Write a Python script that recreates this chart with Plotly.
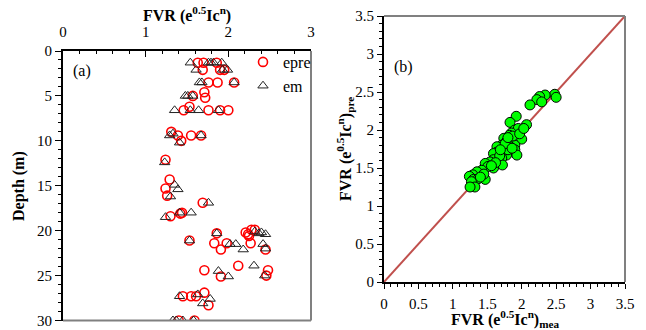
import plotly.graph_objects as go

# Panel (a): predicted (epre) and measured (em) FVR against depth
epre_depth = [1.3, 1.3, 1.3, 2.1, 2.1, 2.1, 3.5, 3.5, 3.5, 5.0, 4.6, 5.2,
              6.6, 6.2, 6.6, 6.6, 6.6, 9.0, 9.4, 10.0, 9.4, 9.4, 12.1,
              14.3, 15.3, 16.1, 16.9, 18.4, 18.1, 18.0,
              20.3, 20.2, 20.4, 19.9, 19.9, 20.6, 21.1,
              21.4, 22.1, 21.4, 21.4, 22.1,
              24.4, 25.1, 23.9, 24.4, 25.0,
              27.3, 27.3, 27.3, 26.9, 28.3, 30.0, 30.0]
epre_val = [1.63, 1.70, 1.86, 1.69, 1.90, 1.95, 1.76, 1.87, 2.07, 1.57, 1.71, 1.72,
            1.46, 1.53, 1.76, 1.90, 2.00, 1.31, 1.39, 1.43, 1.55, 1.67, 1.24,
            1.29, 1.24, 1.26, 1.69, 1.30, 1.42, 1.44,
            1.86, 2.21, 2.24, 2.28, 2.32, 2.25, 1.53,
            1.83, 1.91, 1.98, 2.27, 2.45,
            1.71, 1.91, 2.12, 2.48, 2.46,
            1.45, 1.55, 1.61, 1.71, 1.76, 1.40, 1.59]

em_depth = [1.3, 1.3, 1.3, 1.3, 1.3, 2.1, 2.1, 2.1, 3.5, 3.5, 3.5, 5.0, 5.0, 5.0,
            6.6, 6.6, 6.6, 6.6, 9.4, 9.2, 10.2, 9.4, 12.4,
            14.9, 15.4, 16.2, 16.9, 18.5, 18.0, 18.0,
            20.3, 20.1, 20.3, 20.2, 20.4, 21.1,
            21.5, 21.5, 22.1, 21.5, 22.0,
            24.5, 25.1, 23.9, 25.0,
            27.3, 27.1, 28.1, 27.6, 30.0, 30.0, 30.0, 30.0]
em_val = [1.54, 1.76, 1.79, 1.82, 1.92, 1.61, 1.99, 1.93, 1.65, 1.68, 2.07, 1.48, 1.51, 1.57,
          1.35, 1.54, 1.64, 1.88, 1.29, 1.33, 1.41, 1.67, 1.23,
          1.35, 1.39, 1.30, 1.76, 1.24, 1.41, 1.55,
          1.86, 2.32, 2.37, 2.40, 2.45, 1.53,
          2.02, 2.09, 2.18, 2.42, 2.45,
          1.88, 2.00, 2.31, 2.44,
          1.41, 1.63, 1.69, 1.78, 1.33, 1.37, 1.45, 1.58]

# Panel (b): measured vs predicted FVR
fvr_mea = [2.48, 2.34, 2.26, 2.22, 2.29, 2.12, 2.50,
           1.92, 1.83, 2.07, 1.90, 1.95, 1.85, 1.82, 1.74, 2.00, 1.78, 1.71,
           1.64, 1.90, 1.83, 1.72, 1.64, 1.59, 1.90, 1.93, 1.78, 1.71, 1.66,
           1.59, 1.54, 1.47, 1.72, 1.59, 1.51, 1.42, 1.35, 1.29, 1.24, 1.30,
           1.37, 1.47, 1.27, 1.32, 1.25, 1.87, 1.80, 1.97, 2.03, 1.68, 1.76,
           1.62, 1.45, 1.40, 1.56, 1.86, 1.80, 1.69]
fvr_pre = [2.47, 2.46, 2.44, 2.40, 2.37, 2.33, 2.43,
           2.18, 2.10, 2.07, 2.00, 2.02, 1.96, 1.93, 1.89, 1.88, 1.85, 1.80,
           1.78, 1.80, 1.78, 1.71, 1.71, 1.69, 1.74, 1.67, 1.67, 1.63, 1.61,
           1.61, 1.58, 1.56, 1.54, 1.50, 1.52, 1.47, 1.45, 1.41, 1.39, 1.35,
           1.36, 1.35, 1.32, 1.25, 1.25, 1.92, 1.74, 1.95, 2.02, 1.66, 1.82,
           1.57, 1.42, 1.38, 1.53, 1.76, 1.90, 1.74]

diag = [0, 3.5]

FONT = "Times New Roman, Liberation Serif, serif"
fig = go.Figure()

fig.add_trace(go.Scatter(x=epre_val, y=epre_depth, mode="markers", name="epre",
                         marker=dict(symbol="circle-open", size=9, color="#ff0000",
                                     line=dict(width=1.6, color="#ff0000")),
                         xaxis="x", yaxis="y"))
fig.add_trace(go.Scatter(x=em_val, y=em_depth, mode="markers", name="em",
                         marker=dict(symbol="triangle-up-open", size=9, color="#222222",
                                     line=dict(width=1, color="#222222")),
                         xaxis="x", yaxis="y"))
fig.add_trace(go.Scatter(x=diag, y=diag, mode="lines", showlegend=False,
                         line=dict(color="#c0504d", width=2), xaxis="x2", yaxis="y2"))
fig.add_trace(go.Scatter(x=fvr_mea, y=fvr_pre, mode="markers", showlegend=False,
                         marker=dict(symbol="circle", size=10, color="#00ff00",
                                     line=dict(width=1, color="#000000")),
                         xaxis="x2", yaxis="y2"))

W, H = 646, 330
def px(x): return x / W
def py(y): return 1 - y / H

tickfont = dict(family=FONT, size=15, color="#000000")
minor_common = dict(ticklen=3, tickcolor="#000000", tickwidth=1)

fig.update_layout(
    width=W, height=H, margin=dict(l=0, r=0, t=0, b=0),
    paper_bgcolor="white", plot_bgcolor="white",
    font=dict(family=FONT, size=15, color="#000000"),
    xaxis=dict(domain=[px(63), px(311)], range=[0, 3], side="top", anchor="y",
               dtick=1, ticks="inside", ticklen=6, tickwidth=1, tickcolor="#000",
               minor=dict(dtick=0.2, ticks="inside", **minor_common),
               showline=True, linecolor="#000", linewidth=2, showgrid=False,
               zeroline=False, tickfont=tickfont, automargin=False,
               ticklabelstandoff=6),
    yaxis=dict(domain=[py(320.5), py(51)], range=[30, 0], anchor="x",
               dtick=5, ticks="outside", ticklen=6, tickwidth=1, tickcolor="#000",
               minor=dict(dtick=1, ticks="outside", **minor_common),
               showline=True, linecolor="#000", linewidth=2, showgrid=False,
               zeroline=False, tickfont=tickfont, automargin=False),
    xaxis2=dict(domain=[px(384), px(625)], range=[0, 3.5], anchor="y2",
                dtick=0.5, ticks="outside", ticklen=5, tickwidth=1, tickcolor="#000",
                minor=dict(dtick=0.1, ticks="outside", **minor_common),
                showline=True, linecolor="#000", linewidth=2, showgrid=False,
                zeroline=False, tickfont=tickfont, automargin=False,
                ticklabelstandoff=2),
    yaxis2=dict(domain=[py(282), py(16)], range=[0, 3.5], anchor="x2",
                dtick=0.5, ticks="outside", ticklen=5, tickwidth=1, tickcolor="#000",
                minor=dict(dtick=0.1, ticks="outside", **minor_common),
                showline=True, linecolor="#000", linewidth=2, showgrid=False,
                zeroline=False, tickfont=tickfont, automargin=False),
    legend=dict(x=px(243), y=py(45), xanchor="left", yanchor="top",
                bgcolor="rgba(0,0,0,0)", font=dict(family=FONT, size=16),
                itemwidth=30, tracegroupgap=0),
    showlegend=True,
)

# gray frame lines on right/bottom of (a) and top/right of (b)
frame = dict(type="line", xref="paper", yref="paper", line=dict(color="#808080", width=2))
fig.add_shape(**frame, x0=px(311), x1=px(311), y0=py(320.5), y1=py(51))
fig.add_shape(**frame, x0=px(63), x1=px(311), y0=py(320.5), y1=py(320.5))
fig.add_shape(**frame, x0=px(625), x1=px(625), y0=py(282), y1=py(16))
fig.add_shape(**frame, x0=px(384), x1=px(625), y0=py(16), y1=py(16))

ann = dict(xref="paper", yref="paper", showarrow=False, xanchor="center", yanchor="middle")
fig.add_annotation(**ann, x=px(187), y=py(14), text="<b>FVR (e<sup>0.5</sup>Ic<sup>n</sup>)</b>",
                   font=dict(family=FONT, size=16))
fig.add_annotation(**ann, x=px(19), y=py(186), text="<b>Depth (m)</b>", textangle=-90,
                   font=dict(family=FONT, size=16))
fig.add_annotation(**ann, x=px(505), y=py(319), text="<b>FVR (e<sup>0.5</sup>Ic<sup>n</sup>)<sub>mea</sub></b>",
                   font=dict(family=FONT, size=16))
fig.add_annotation(**ann, x=px(345), y=py(149), text="<b>FVR (e<sup>0.5</sup>Ic<sup>n</sup>)<sub>pre</sub></b>",
                   textangle=-90, font=dict(family=FONT, size=16))
fig.add_annotation(**ann, x=px(82), y=py(71), text="(a)", font=dict(family=FONT, size=16))
fig.add_annotation(**ann, x=px(403), y=py(67), text="(b)", font=dict(family=FONT, size=16))

fig.write_html("out.html", config={"displayModeBar": False},
               post_script="document.body.style.margin='0';document.body.style.overflow='hidden';")
